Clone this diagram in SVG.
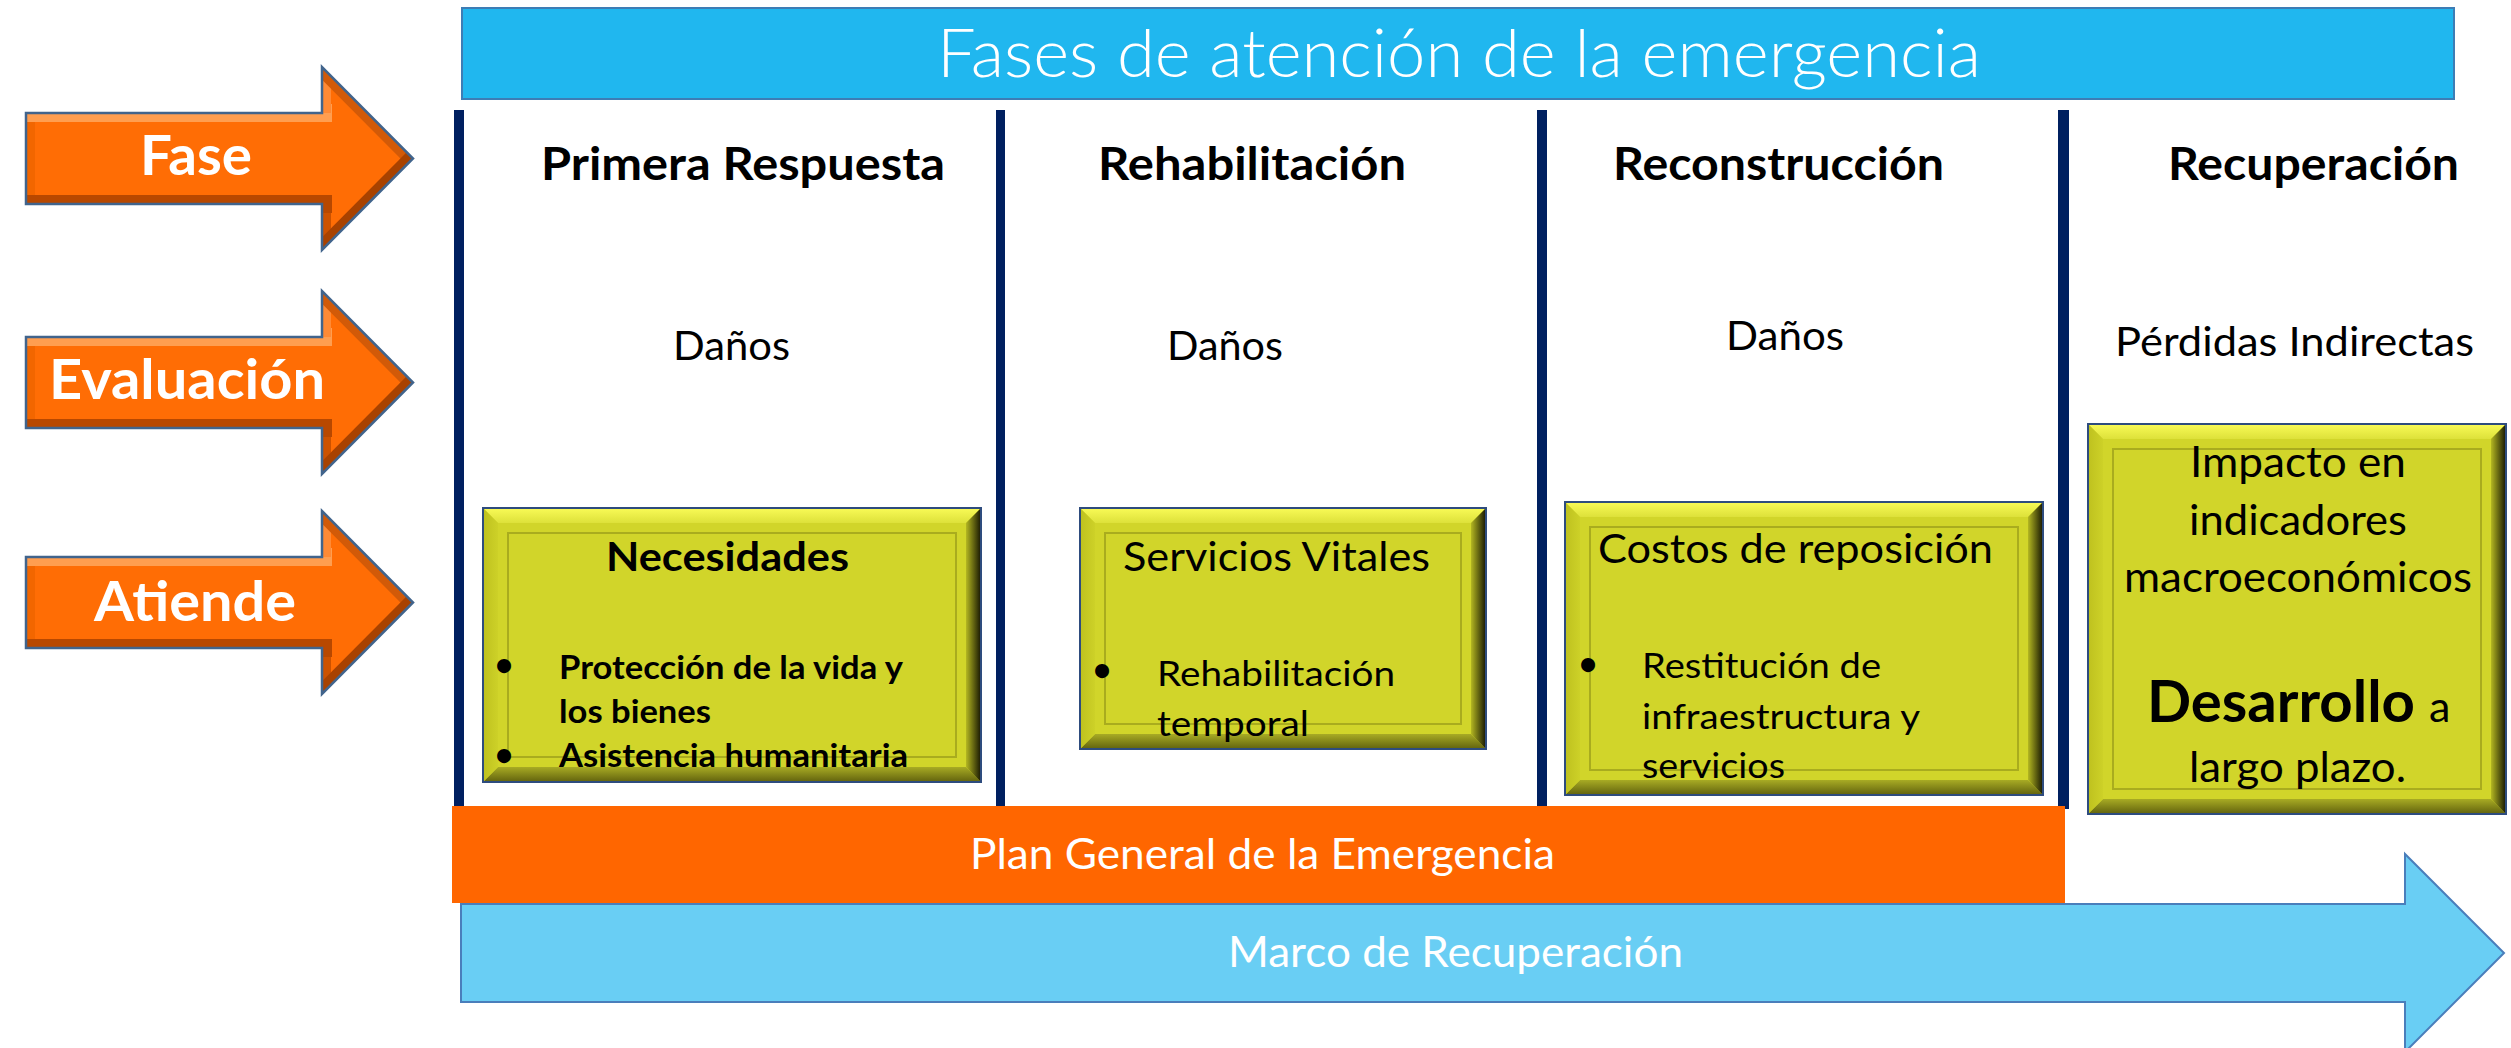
<svg xmlns="http://www.w3.org/2000/svg" xmlns:xlink="http://www.w3.org/1999/xlink" width="2511" height="1048" viewBox="0 0 2511 1048">
<style>
  text { font-family: Lato, "Open Sans", "Liberation Sans", sans-serif; }
  .title { font-weight: 300; font-size: 67px; fill: #ffffff; }
  .hdr { font-weight: 700; font-size: 46px; fill: #000000; }
  .reg { font-weight: 400; font-size: 40px; fill: #000000; }
  .lbl { font-weight: 700; font-size: 55px; fill: #ffffff; }
  .bx { font-weight: 400; font-size: 40px; fill: #000000; }
  .bxb { font-weight: 700; font-size: 40px; fill: #000000; }
  .bul { font-weight: 700; font-size: 32px; fill: #000000; }
  .sm { font-weight: 400; font-size: 35px; fill: #000000; }
  .big { font-weight: 400; font-size: 43px; fill: #000000; }
  .wht { font-weight: 400; font-size: 42px; fill: #ffffff; }
  .vline { fill: #002060; }
  .ybase { fill: #D1D52A; stroke: #2E4C7E; stroke-width: 2; }
  .yinner { fill: none; stroke: #A9AC1E; stroke-width: 2; }
  .bt { fill: url(#gTop); }
  .bb { fill: url(#gBot); }
  .bl { fill: url(#gLeft); }
  .br { fill: url(#gRight); }
</style>
<defs>
  <linearGradient id="gTop" x1="0" y1="0" x2="0" y2="1">
    <stop offset="0" stop-color="#F7F955"/>
    <stop offset="1" stop-color="#DDE13A"/>
  </linearGradient>
  <linearGradient id="gBot" x1="0" y1="0" x2="0" y2="1">
    <stop offset="0" stop-color="#A8AB24"/>
    <stop offset="1" stop-color="#66670F"/>
  </linearGradient>
  <linearGradient id="gLeft" x1="0" y1="0" x2="1" y2="0">
    <stop offset="0" stop-color="#BFC21F"/>
    <stop offset="1" stop-color="#CDD128"/>
  </linearGradient>
  <linearGradient id="gRight" x1="0" y1="0" x2="1" y2="0">
    <stop offset="0" stop-color="#B4B721"/>
    <stop offset="1" stop-color="#202004"/>
  </linearGradient>
  <path id="arrowShape" d="M0,-45.5 H296 V-91.5 L387,0 L296,91.5 V45.5 H0 Z"/>
  <clipPath id="arrowClip"><use xlink:href="#arrowShape"/></clipPath>
  <g id="arrowBody">
    <use xlink:href="#arrowShape" fill="#FF6D05"/>
    <g clip-path="url(#arrowClip)" fill="none" stroke-width="18">
      <path d="M0,-45.5 V45.5" stroke="#F26600"/>
      <path d="M0,-45.5 H306" stroke="#FF9E50"/>
      <path d="M296,-45.5 V-91.5" stroke="#FF8A35"/>
      <path d="M296,-91.5 L387,0" stroke="#D25A08"/>
      <path d="M296,45.5 V91.5" stroke="#CC5200"/>
      <path d="M0,45.5 H306" stroke="#B84800"/>
      <path d="M387,0 L296,91.5" stroke="#A84200"/>
    </g>
    <use xlink:href="#arrowShape" fill="none" stroke="#41648C" stroke-width="2.5"/>
  </g>
</defs>

<rect width="2511" height="1048" fill="#ffffff"/>

<!-- Title bar -->
<g id="title">
  <rect x="462" y="8" width="1992" height="91" fill="#20B7EF" stroke="#3D7DB5" stroke-width="2"/>
  <text class="title" x="1459" y="77" text-anchor="middle" textLength="1044" lengthAdjust="spacingAndGlyphs">Fases de atención de la emergencia</text>
</g>

<!-- Column dividers -->
<g id="dividers">
  <rect class="vline" x="454" y="110" width="10" height="697"/>
  <rect class="vline" x="996" y="110" width="9" height="697"/>
  <rect class="vline" x="1537" y="110" width="10" height="697"/>
  <rect class="vline" x="2058" y="110" width="11" height="699"/>
</g>

<!-- Left arrows -->
<g id="arrow-fase" transform="translate(26,158.5)">
  <use xlink:href="#arrowBody"/>
  <text class="lbl" x="114" y="16.5" textLength="112" lengthAdjust="spacingAndGlyphs">Fase</text>
</g>
<g id="arrow-evaluacion" transform="translate(26,382.5)">
  <use xlink:href="#arrowBody"/>
  <text class="lbl" x="23" y="16.5" textLength="276" lengthAdjust="spacingAndGlyphs">Evaluación</text>
</g>
<g id="arrow-atiende" transform="translate(26,602.5)">
  <use xlink:href="#arrowBody"/>
  <text class="lbl" x="68" y="18.5" textLength="202" lengthAdjust="spacingAndGlyphs">Atiende</text>
</g>

<!-- Column headers and evaluation labels -->
<g id="col-primera-respuesta">
  <text class="hdr" x="541" y="180" textLength="404" lengthAdjust="spacingAndGlyphs">Primera Respuesta</text>
  <text class="reg" x="673" y="360" textLength="117" lengthAdjust="spacingAndGlyphs">Daños</text>
</g>
<g id="col-rehabilitacion">
  <text class="hdr" x="1098" y="180" textLength="308" lengthAdjust="spacingAndGlyphs">Rehabilitación</text>
  <text class="reg" x="1167" y="360" textLength="116" lengthAdjust="spacingAndGlyphs">Daños</text>
</g>
<g id="col-reconstruccion">
  <text class="hdr" x="1613" y="180" textLength="331" lengthAdjust="spacingAndGlyphs">Reconstrucción</text>
  <text class="reg" x="1726" y="350" textLength="118" lengthAdjust="spacingAndGlyphs">Daños</text>
</g>
<g id="col-recuperacion">
  <text class="hdr" x="2168" y="180" textLength="291" lengthAdjust="spacingAndGlyphs">Recuperación</text>
  <text class="reg" x="2115" y="356" textLength="359" lengthAdjust="spacingAndGlyphs">Pérdidas Indirectas</text>
</g>

<!-- Box 1: Necesidades -->
<g id="box-necesidades">
  <rect class="ybase" x="483" y="508" width="498" height="274"/>
  <polygon class="bt" points="484,509 980,509 966,523 498,523"/>
  <polygon class="bb" points="498,767 966,767 980,781 484,781"/>
  <polygon class="bl" points="484,509 498,523 498,767 484,781"/>
  <polygon class="br" points="966,523 980,509 980,781 966,767"/>
  <rect class="yinner" x="508" y="533" width="448" height="224"/>
  <text class="bxb" x="606" y="571" textLength="243" lengthAdjust="spacingAndGlyphs">Necesidades</text>
  <text class="bul" x="504" y="676" text-anchor="middle">•</text>
  <text class="bul" x="559" y="679" textLength="344" lengthAdjust="spacingAndGlyphs">Protección de la vida y</text>
  <text class="bul" x="559" y="723" textLength="152" lengthAdjust="spacingAndGlyphs">los bienes</text>
  <text class="bul" x="504" y="766" text-anchor="middle">•</text>
  <text class="bul" x="559" y="767" textLength="349" lengthAdjust="spacingAndGlyphs">Asistencia humanitaria</text>
</g>

<!-- Box 2: Servicios Vitales -->
<g id="box-servicios">
  <rect class="ybase" x="1080" y="508" width="406" height="241"/>
  <polygon class="bt" points="1081,509 1485,509 1471,523 1095,523"/>
  <polygon class="bb" points="1095,734 1471,734 1485,748 1081,748"/>
  <polygon class="bl" points="1081,509 1095,523 1095,734 1081,748"/>
  <polygon class="br" points="1471,523 1485,509 1485,748 1471,734"/>
  <rect class="yinner" x="1105" y="533" width="356" height="191"/>
  <text class="bx" x="1123" y="571" textLength="307" lengthAdjust="spacingAndGlyphs">Servicios Vitales</text>
  <text class="bul" x="1102" y="681" text-anchor="middle">•</text>
  <text class="sm" x="1157" y="686" textLength="238" lengthAdjust="spacingAndGlyphs">Rehabilitación</text>
  <text class="sm" x="1157" y="736" textLength="152" lengthAdjust="spacingAndGlyphs">temporal</text>
</g>

<!-- Box 3: Costos de reposición -->
<g id="box-costos">
  <rect class="ybase" x="1565" y="502" width="478" height="293"/>
  <polygon class="bt" points="1566,503 2042,503 2028,517 1580,517"/>
  <polygon class="bb" points="1580,780 2028,780 2042,794 1566,794"/>
  <polygon class="bl" points="1566,503 1580,517 1580,780 1566,794"/>
  <polygon class="br" points="2028,517 2042,503 2042,794 2028,780"/>
  <rect class="yinner" x="1590" y="527" width="428" height="243"/>
  <text class="bx" x="1598" y="563" textLength="395" lengthAdjust="spacingAndGlyphs">Costos de reposición</text>
  <text class="bul" x="1588" y="675" text-anchor="middle">•</text>
  <text class="sm" x="1642" y="678" textLength="239" lengthAdjust="spacingAndGlyphs">Restitución de</text>
  <text class="sm" x="1642" y="729" textLength="278" lengthAdjust="spacingAndGlyphs">infraestructura y</text>
  <text class="sm" x="1642" y="778" textLength="143" lengthAdjust="spacingAndGlyphs">servicios</text>
</g>

<!-- Box 4: Impacto -->
<g id="box-impacto">
  <rect class="ybase" x="2088" y="424" width="418" height="390"/>
  <polygon class="bt" points="2089,425 2505,425 2491,439 2103,439"/>
  <polygon class="bb" points="2103,799 2491,799 2505,813 2089,813"/>
  <polygon class="bl" points="2089,425 2103,439 2103,799 2089,813"/>
  <polygon class="br" points="2491,439 2505,425 2505,813 2491,799"/>
  <rect class="yinner" x="2113" y="449" width="368" height="340"/>
  <text class="big" x="2190" y="477" textLength="216" lengthAdjust="spacingAndGlyphs">Impacto en</text>
  <text class="big" x="2189" y="535" textLength="218" lengthAdjust="spacingAndGlyphs">indicadores</text>
  <text class="big" x="2124" y="592" textLength="348" lengthAdjust="spacingAndGlyphs">macroeconómicos</text>
  <text x="2147" y="722"><tspan font-weight="700" font-size="58" textLength="268" lengthAdjust="spacingAndGlyphs">Desarrollo</tspan></text>
  <text class="big" x="2429" y="722">a</text>
  <text class="big" x="2189" y="782" textLength="217" lengthAdjust="spacingAndGlyphs">largo plazo.</text>
</g>

<!-- Plan General bar -->
<g id="plan-general">
  <rect x="452" y="806" width="1613" height="97" fill="#FF6600"/>
  <text class="wht" x="970" y="869" textLength="585" lengthAdjust="spacingAndGlyphs">Plan General de la Emergencia</text>
</g>

<!-- Marco de Recuperación arrow -->
<g id="marco-recuperacion">
  <path d="M461,904 H2405 V854 L2504,953 L2405,1052 V1002 H461 Z" fill="#69CEF4" stroke="#4A7EBB" stroke-width="2"/>
  <text class="wht" x="1228" y="967" font-size="38" textLength="455" lengthAdjust="spacingAndGlyphs">Marco de Recuperación</text>
</g>

<g id="connectors"/>
</svg>
